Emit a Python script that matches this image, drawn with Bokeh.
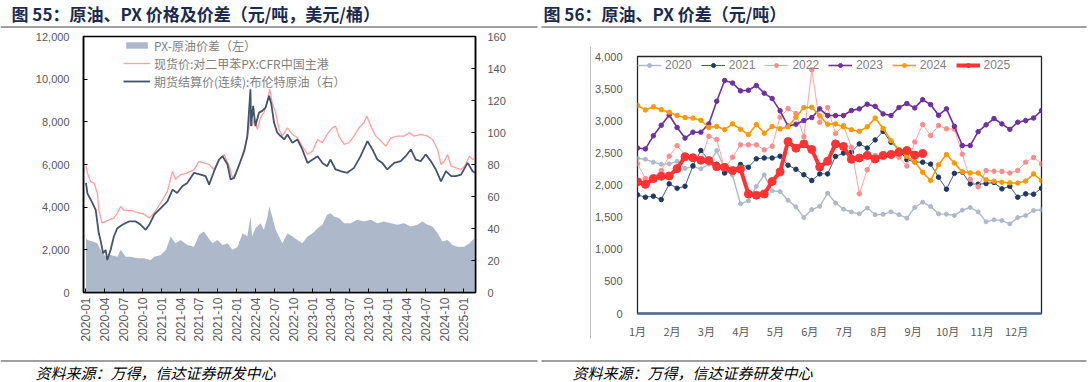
import numpy as np
import pandas as pd
from bokeh.plotting import figure
from bokeh.models import (Range1d, LinearAxis, FixedTicker, NumeralTickFormatter,
                          DatetimeTickFormatter, Legend, LegendItem, Spacer)
from bokeh.layouts import column, row
from bokeh.embed import file_html
from bokeh.resources import INLINE
from bokeh.core.properties import value

# ---------------- texts ----------------
TITLE_55 = "图 55：原油、PX 价格及价差（元/吨，美元/桶）"
TITLE_56 = "图 56：原油、PX 价差（元/吨）"
SOURCE = "资料来源：万得，信达证券研发中心"

# ---------------- Figure 55 data ----------------
spread_dates = ["2020-01-02", "2020-01-09", "2020-02-02", "2020-02-26", "2020-03-12", "2020-04-06",
                "2020-04-30", "2020-06-02", "2020-06-18", "2020-07-12", "2020-08-06", "2020-09-08",
                "2020-10-09", "2020-11-11", "2020-11-27", "2020-12-29", "2021-01-23", "2021-02-15",
                "2021-03-10", "2021-04-04", "2021-05-06", "2021-06-08", "2021-07-02", "2021-07-26",
                "2021-08-11", "2021-09-05", "2021-09-29", "2021-10-24", "2021-11-17", "2021-12-11",
                "2022-01-05", "2022-01-29", "2022-02-21", "2022-03-08", "2022-03-16", "2022-04-01",
                "2022-04-26", "2022-05-12", "2022-05-28", "2022-06-07", "2022-06-21", "2022-07-08",
                "2022-07-24", "2022-08-09", "2022-09-03", "2022-09-27", "2022-10-21", "2022-11-14",
                "2022-12-09", "2023-01-03", "2023-01-27", "2023-02-19", "2023-03-14", "2023-03-30",
                "2023-04-16", "2023-05-10", "2023-06-04", "2023-07-05", "2023-08-07", "2023-09-09",
                "2023-10-11", "2023-11-12", "2023-12-14", "2024-01-17", "2024-02-17", "2024-03-20",
                "2024-04-22", "2024-05-24", "2024-06-17", "2024-07-12", "2024-08-05", "2024-08-30",
                "2024-09-22", "2024-10-17", "2024-11-10", "2024-12-04", "2025-01-06", "2025-01-31",
                "2025-02-15", "2025-02-27"]
spread_vals = [2540, 2460, 2390, 2310, 2000, 1680, 1760, 1680, 2000, 1680, 1680, 1600,
               1600, 1520, 1680, 1760, 2000, 2620, 2310, 2460, 2230, 2150, 2700, 2860,
               2620, 2310, 2460, 2230, 2310, 2000, 2150, 2780, 2620, 3560, 2620, 3010,
               3250, 2940, 3490, 4030, 3560, 2940, 2620, 2310, 2780, 2620, 2460, 2310,
               2620, 2780, 3010, 3170, 3640, 3720, 3560, 3490, 3250, 3250, 3410, 3330,
               3410, 3250, 3330, 3250, 3170, 3250, 3090, 3170, 3330, 3170, 3090, 2780,
               2390, 2460, 2230, 2150, 2150, 2310, 2460, 2540]

px_dates = ["2020-01-02", "2020-01-09", "2020-01-25", "2020-02-10", "2020-02-26", "2020-03-04",
            "2020-03-20", "2020-04-06", "2020-04-22", "2020-05-16", "2020-06-02", "2020-06-18",
            "2020-07-04", "2020-08-06", "2020-09-08", "2020-10-09", "2020-11-03", "2020-11-19",
            "2020-12-13", "2021-01-07", "2021-01-30", "2021-02-24", "2021-03-10", "2021-04-04",
            "2021-05-06", "2021-06-08", "2021-07-02", "2021-07-26", "2021-08-20", "2021-09-13",
            "2021-10-07", "2021-11-01", "2021-11-25", "2021-12-11", "2021-12-27", "2022-01-21",
            "2022-02-14", "2022-02-28", "2022-03-08", "2022-03-16", "2022-03-27", "2022-04-10",
            "2022-04-26", "2022-05-12", "2022-05-28", "2022-06-09", "2022-06-21", "2022-07-08",
            "2022-07-24", "2022-08-09", "2022-09-03", "2022-09-27", "2022-10-21", "2022-11-14",
            "2022-12-09", "2023-01-03", "2023-01-27", "2023-02-19", "2023-03-14", "2023-04-08",
            "2023-04-24", "2023-05-10", "2023-06-04", "2023-06-28", "2023-07-22", "2023-08-15",
            "2023-09-09", "2023-09-22", "2023-10-11", "2023-11-05", "2023-11-29", "2023-12-23",
            "2024-01-17", "2024-02-17", "2024-03-20", "2024-04-14", "2024-05-08", "2024-06-09",
            "2024-07-12", "2024-08-05", "2024-08-30", "2024-09-15", "2024-10-01", "2024-10-17",
            "2024-11-03", "2024-11-26", "2024-12-21", "2025-01-06", "2025-01-31", "2025-02-15",
            "2025-02-27"]
px_vals = [5920, 5600, 5200, 5130, 4660, 3880, 3250, 3330, 3400, 3490, 3720, 4030,
           3850, 3850, 3750, 3670, 3490, 3640, 3960, 4350, 4740, 5680, 5290, 5530,
           5600, 5760, 6150, 6080, 6000, 5760, 6230, 6470, 5920, 5370, 5600, 6230,
           7020, 7650, 8590, 7800, 8120, 7650, 8200, 8430, 8900, 9530, 8900, 8430,
           7650, 7330, 7720, 7410, 7250, 6860, 6470, 6630, 7170, 7020, 7410, 7720,
           7800, 7330, 6940, 7020, 7330, 7720, 7960, 8270, 7800, 7330, 7100, 6860,
           7250, 7330, 7330, 7490, 7330, 7410, 7330, 7170, 6700, 6000, 6150, 6470,
           5920, 5840, 5760, 5920, 6390, 6230, 6310]

brent_dates = ["2020-01-02", "2020-01-09", "2020-02-02", "2020-02-18", "2020-03-04", "2020-03-12",
               "2020-03-25", "2020-04-06", "2020-04-14", "2020-04-30", "2020-05-16", "2020-06-02",
               "2020-06-26", "2020-07-28", "2020-08-30", "2020-09-23", "2020-10-17", "2020-11-03",
               "2020-11-27", "2020-12-29", "2021-01-30", "2021-02-24", "2021-03-18", "2021-04-12",
               "2021-05-06", "2021-06-08", "2021-07-10", "2021-08-03", "2021-08-20", "2021-09-13",
               "2021-10-07", "2021-10-24", "2021-11-17", "2021-12-02", "2021-12-19", "2022-01-13",
               "2022-02-06", "2022-02-21", "2022-03-08", "2022-03-11", "2022-03-21", "2022-04-01",
               "2022-04-18", "2022-05-04", "2022-05-20", "2022-06-06", "2022-06-17", "2022-06-30",
               "2022-07-16", "2022-08-01", "2022-08-18", "2022-09-03", "2022-09-27", "2022-10-21",
               "2022-11-14", "2022-12-09", "2023-01-03", "2023-01-27", "2023-02-19", "2023-03-14",
               "2023-03-30", "2023-04-24", "2023-05-18", "2023-06-19", "2023-07-22", "2023-08-23",
               "2023-09-25", "2023-10-19", "2023-11-12", "2023-12-06", "2023-12-30", "2024-02-02",
               "2024-03-04", "2024-03-28", "2024-04-22", "2024-05-16", "2024-06-09", "2024-07-03",
               "2024-07-28", "2024-08-21", "2024-09-15", "2024-10-09", "2024-11-03", "2024-11-26",
               "2024-12-21", "2025-01-22", "2025-02-15", "2025-02-27"]
brent_vals = [68.5, 62.0, 56.0, 51.7, 37.0, 32.9, 24.5, 26.6, 20.3, 26.6, 35.0, 40.2,
              42.3, 44.4, 44.4, 42.3, 39.2, 42.3, 48.6, 52.8, 57.0, 64.3, 62.2, 66.4,
              68.5, 74.8, 73.7, 72.7, 67.4, 75.8, 83.1, 85.2, 80.0, 70.6, 71.6, 80.0,
              88.4, 97.8, 127.0, 104.0, 116.6, 104.0, 112.4, 113.5, 115.6, 122.9, 117.7, 106.2,
              99.9, 97.8, 95.7, 98.8, 93.6, 95.7, 89.4, 81.0, 83.1, 85.2, 81.0, 78.9,
              83.1, 76.9, 75.8, 74.8, 77.9, 85.2, 94.6, 89.4, 83.1, 81.0, 76.9, 81.0,
              82.1, 85.2, 89.4, 83.1, 82.1, 86.3, 82.1, 76.9, 69.5, 75.8, 72.7, 72.7,
              73.7, 81.0, 75.8, 74.8]

quarter_labels = ["2020-01", "2020-04", "2020-07", "2020-10", "2021-01", "2021-04", "2021-07",
                  "2021-10", "2022-01", "2022-04", "2022-07", "2022-10", "2023-01", "2023-04",
                  "2023-07", "2023-10", "2024-01", "2024-04", "2024-07", "2024-10", "2025-01"]

# ---------------- Figure 56 data (weekly) ----------------
month_labels = ["1月", "2月", "3月", "4月", "5月", "6月", "7月", "8月", "9月", "10月", "11月", "12月"]

y2020 = [2415, 2400, 2355, 2322, 2329, 2368, 2257, 2285, 2251, 2324, 2536, 2251, 2152, 1707,
         1753, 1978, 2158, 1909, 1898, 1763, 1660, 1494, 1618, 1668, 1873, 1720, 1625, 1580,
         1551, 1642, 1538, 1543, 1582, 1538, 1484, 1650, 1732, 1665, 1551, 1546, 1525, 1608,
         1650, 1582, 1427, 1458, 1447, 1395, 1494, 1525, 1603, 1613]
y2021 = [1847, 1810, 1826, 1774, 2018, 1950, 1981, 2298, 2536, 2386, 2324, 2187, 2225, 2320,
         2277, 2407, 2420, 2420, 2448, 2308, 2244, 2160, 2070, 2173, 2173, 2445, 2497, 2510,
         2640, 2575, 2702, 2835, 2666, 2545, 2393, 2360, 2355, 2325, 2121, 1935, 2181, 2199,
         2018, 2012, 2023, 2040, 1940, 1981, 1810, 1862, 1857, 1950]
y2022 = [2329, 2100, 2122, 2225, 2448, 2612, 2464, 2391, 2381, 2757, 2708, 2264, 2433, 2625,
         2625, 2625, 2547, 2604, 3055, 3190, 3112, 2750, 3795, 2977, 3205, 2800, 2925, 2588,
         1862, 2238, 2459, 2459, 2500, 2433, 2295, 2670, 2941, 2770, 2925, 2874, 2870, 2480,
         2088, 1971, 2225, 2215, 2210, 2187, 2225, 2355, 2428, 2329]
y2023 = [2575, 2562, 2765, 2930, 3090, 2895, 2730, 2822, 2822, 2951, 3304, 3626, 3587, 3465,
         3475, 3548, 3429, 3345, 3154, 2918, 2946, 3003, 3050, 3185, 3081, 3081, 3081, 3159,
         3185, 3258, 3224, 3107, 3081, 3206, 3268, 3200, 3328, 3252, 3086, 3185, 2913, 2614,
         2614, 2830, 2936, 3035, 2951, 2866, 2977, 3003, 3043, 3159]
y2024 = [3237, 3169, 3216, 3172, 3133, 3081, 3050, 3042, 3008, 2895, 2912, 2863, 2951, 2868,
         2785, 2941, 2806, 2912, 2874, 2905, 3055, 3205, 3211, 3076, 2946, 2951, 2907, 2860,
         2837, 2905, 3042, 2879, 2692, 2552, 2446, 2360, 2199, 2070, 2316, 2474, 2342, 2204,
         2189, 2186, 2080, 2059, 2044, 2033, 2030, 2061, 2173, 2070]
y2025 = [2050, 2010, 2100, 2135, 2140, 2255, 2440, 2425, 2385, 2380, 2285, 2275, 2225, 2250,
         1860, 1840, 1860, 2055, 2205, 2676, 2573, 2640, 2552, 2280, 2370, 2640, 2600, 2400,
         2420, 2460, 2405, 2460, 2475, 2510, 2536, 2465, 2490]

# ---------------- styles ----------------
AX_FONT = "Liberation Sans"
CJK = "Noto Sans CJK SC"
AX_COLOR = "#595959"
TITLE_COLOR = "#1B2B4E"
PAGE_W = 1088


def style_axis(ax, size="11px", font=AX_FONT):
    ax.major_label_text_font = font
    ax.major_label_text_font_size = size
    ax.major_label_text_color = AX_COLOR
    ax.minor_tick_line_color = None


def blank(p):
    p.grid.visible = False
    p.outline_line_color = None
    p.background_fill_color = "white"
    p.border_fill_color = "white"


# ---------------- header ----------------
hdr = figure(width=PAGE_W, height=28, x_range=Range1d(0, PAGE_W), y_range=Range1d(28, 0),
             x_axis_location=None, y_axis_location=None, min_border=0, title=None,
             output_backend="svg", toolbar_location=None)
blank(hdr)
hdr.text(x=[11, 543], y=[13, 13], text=[TITLE_55, TITLE_56], text_font=value(CJK),
         text_font_size="17px", text_font_style="bold", text_color=TITLE_COLOR,
         text_baseline="middle", text_align="left")
hdr.segment(x0=[0, 541], y0=[26.5, 26.5], x1=[537, 1086], y1=[26.5, 26.5],
            line_color="#7F7F7F", line_width=1.5)

# ---------------- left chart (Figure 55) ----------------
x_start = pd.Timestamp("2019-12-21")
x_end = pd.Timestamp("2025-03-01")
left = figure(width=540, height=320, x_axis_type="datetime", title=None,
              x_range=Range1d(x_start, x_end), y_range=Range1d(0, 12000),
              min_border_left=83, min_border_right=65, min_border_top=8, min_border_bottom=56,
              output_backend="svg", toolbar_location=None)
left.grid.visible = False
left.outline_line_color = "black"
left.outline_line_width = 1.5
left.extra_y_ranges = {"brent": Range1d(0, 160)}

r_area = left.varea(x=pd.to_datetime(spread_dates), y1=0, y2=spread_vals,
                    fill_color="#ADB9CA", fill_alpha=1.0)
r_px = left.line(x=pd.to_datetime(px_dates), y=px_vals, line_color="#FF9F9F", line_width=1.3)
r_brent = left.line(x=pd.to_datetime(brent_dates), y=brent_vals, y_range_name="brent",
                    line_color="#44546A", line_width=1.8)

yl = left.yaxis[0]
yl.ticker = FixedTicker(ticks=list(range(0, 12001, 2000)))
yl.formatter = NumeralTickFormatter(format="0,0")
style_axis(yl)
yl.major_tick_in = 4
yl.major_tick_out = 0
yl.major_tick_line_color = "black"
yl.axis_line_color = "black"
yl.axis_line_width = 1.5
yl.major_label_standoff = 14

yr = LinearAxis(y_range_name="brent", ticker=FixedTicker(ticks=list(range(0, 161, 20))))
style_axis(yr)
yr.major_tick_in = 4
yr.major_tick_out = 0
yr.major_tick_line_color = "black"
yr.axis_line_color = "black"
yr.axis_line_width = 1.5
yr.major_label_standoff = 12
left.add_layout(yr, "right")

q_ticks = [int(pd.Timestamp(q + "-01").value // 10**6) for q in quarter_labels]
xb = left.xaxis[0]
xb.ticker = FixedTicker(ticks=q_ticks)
xb.formatter = DatetimeTickFormatter(days="%Y-%m", months="%Y-%m", years="%Y-%m")
xb.major_label_overrides = {t: lab for t, lab in zip(q_ticks, quarter_labels)}
style_axis(xb, size="12px")
xb.major_label_orientation = np.pi / 2
xb.major_tick_in = 4
xb.major_tick_out = 0
xb.major_tick_line_color = "black"
xb.axis_line_color = "black"
xb.axis_line_width = 1.5
xb.major_label_standoff = 5

leg_l = Legend(items=[LegendItem(label="PX-原油价差（左）", renderers=[r_area]),
                      LegendItem(label="现货价:对二甲苯PX:CFR中国主港", renderers=[r_px]),
                      LegendItem(label="期货结算价(连续):布伦特原油（右）", renderers=[r_brent])],
               location=(40, 202), orientation="vertical")
leg_l.label_text_font = CJK
leg_l.label_text_font_size = "12px"
leg_l.label_text_color = "#7F7F7F"
leg_l.glyph_width = 27
leg_l.glyph_height = 8
leg_l.label_height = 18
leg_l.label_standoff = 4
leg_l.spacing = 0
leg_l.padding = 0
leg_l.margin = 0
leg_l.border_line_alpha = 0
leg_l.background_fill_alpha = 0
left.add_layout(leg_l)

# ---------------- middle strip (chart-area border line) ----------------
mid = figure(width=51, height=320, x_range=Range1d(0, 51), y_range=Range1d(320, 0),
             x_axis_location=None, y_axis_location=None, min_border=0, title=None,
             output_backend="svg", toolbar_location=None)
blank(mid)
mid.segment(x0=[50], y0=[18], x1=[50], y1=[310], line_color="#BFBFBF", line_width=1)

# ---------------- right chart (Figure 56) ----------------
n_weeks = len(y2020)
right_w = PAGE_W - 540 - 51
right = figure(width=right_w, height=295, x_range=Range1d(0, n_weeks - 1), y_range=Range1d(0, 4000),
               min_border_left=46, min_border_right=right_w - 46 - 404, min_border_top=8,
               min_border_bottom=30, title=None, output_backend="svg", toolbar_location=None)
right.grid.visible = False
right.outline_line_color = "#262626"
right.outline_line_width = 1.3

series = [("2020", y2020, "#ADB9CA", "#ADB9CA", 1.4, 4),
          ("2021", y2021, "#3F5B88", "#203864", 1.0, 4.5),
          ("2022", y2022, "#FFA3A3", "#FF8C8C", 1.0, 4.5),
          ("2023", y2023, "#7030A0", "#7030A0", 1.6, 4.5),
          ("2024", y2024, "#FF9900", "#FF9900", 1.6, 4.5),
          ("2025", y2025, "#FF3333", "#FF3333", 4.0, 8)]
items = []
for name, vals, lc, mc, lw, ms in series:
    wk = np.arange(len(vals))
    rl = right.line(x=wk, y=vals, line_color=lc, line_width=lw)
    rs = right.scatter(x=wk, y=vals, marker="circle", size=ms, fill_color=mc, line_color=mc)
    items.append(LegendItem(label=name, renderers=[rl, rs]))

ya = right.yaxis[0]
ya.ticker = FixedTicker(ticks=list(range(0, 4001, 500)))
ya.formatter = NumeralTickFormatter(format="0,0")
style_axis(ya)
ya.major_tick_in = 0
ya.major_tick_out = 0
ya.axis_line_color = None
ya.major_label_standoff = 15

m_ticks = [round(i * 4.35, 2) for i in range(len(month_labels))]
xa = right.xaxis[0]
xa.ticker = FixedTicker(ticks=m_ticks)
xa.major_label_overrides = {t: lab for t, lab in zip(m_ticks, month_labels)}
style_axis(xa, size="11px", font=CJK)
xa.major_tick_in = 0
xa.major_tick_out = 0
xa.axis_line_color = "#4F6E99"
xa.axis_line_width = 2.5
xa.major_label_standoff = 9

leg_r = Legend(items=items, location=(0, 239), orientation="horizontal")
leg_r.label_text_font = AX_FONT
leg_r.label_text_font_size = "12px"
leg_r.label_text_color = "#7F7F7F"
leg_r.glyph_width = 24
leg_r.glyph_height = 10
leg_r.label_height = 18
leg_r.label_standoff = 4
leg_r.spacing = 9
leg_r.padding = 0
leg_r.margin = 0
leg_r.border_line_alpha = 0
leg_r.background_fill_alpha = 0
right.add_layout(leg_r)

right_col = column(Spacer(width=right_w, height=20), right)

# ---------------- footer ----------------
ftr = figure(width=PAGE_W, height=34, x_range=Range1d(0, PAGE_W), y_range=Range1d(34, 0),
             x_axis_location=None, y_axis_location=None, min_border=0, title=None,
             output_backend="svg", toolbar_location=None)
blank(ftr)
ftr.segment(x0=[0, 541], y0=[12.5, 12.5], x1=[537, 1086], y1=[12.5, 12.5],
            line_color="#7F7F7F", line_width=1.5)
ftr.text(x=[35, 572], y=[23.5, 23.5], text=[SOURCE, SOURCE], text_font=value(CJK),
         text_font_size="15px", text_font_style="italic", text_color="#000000",
         text_baseline="middle", text_align="left")

page = column(hdr, row(column(left), column(mid), right_col), ftr)
open("out.html", "w").write(file_html(page, INLINE))
